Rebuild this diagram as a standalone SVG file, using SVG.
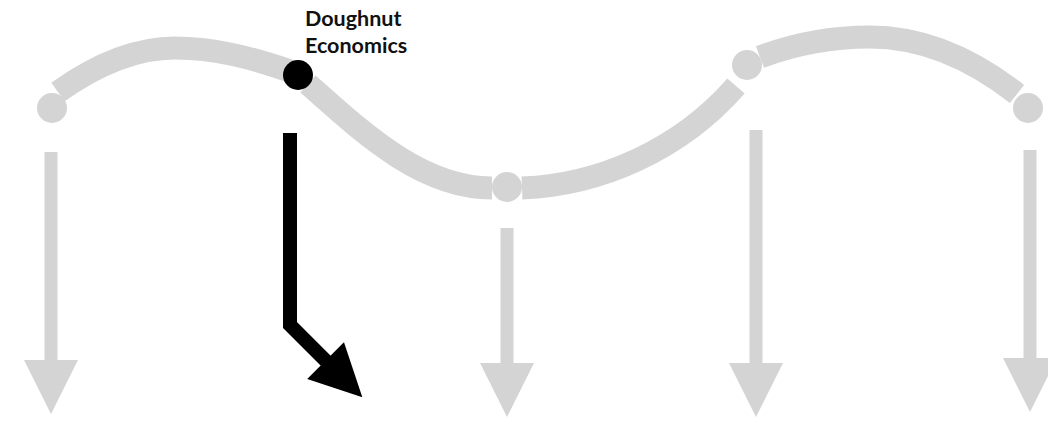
<svg xmlns="http://www.w3.org/2000/svg" width="1048" height="425" viewBox="0 0 1048 425">
  <style>
    .wave { fill: none; stroke: #d4d4d4; stroke-width: 23; stroke-linecap: butt; }
    .dot { fill: #d4d4d4; }
    .garrow { fill: none; stroke: #d4d4d4; stroke-width: 13; }
    .barrow { fill: none; stroke: #000; stroke-width: 14; stroke-linejoin: miter; }
    .label { font-family: Lato, "Liberation Sans", sans-serif; font-weight: 700; font-size: 21.5px; fill: #111; }
  </style>
  <defs>
    <marker id="gh" markerUnits="userSpaceOnUse" markerWidth="56" markerHeight="56" viewBox="0 0 56 56" refX="2" refY="27" orient="auto" overflow="visible">
      <path d="M0,0 L54,27 L0,54 Z" fill="#d4d4d4"/>
    </marker>
    <marker id="bh" markerUnits="userSpaceOnUse" markerWidth="56" markerHeight="56" viewBox="0 0 56 56" refX="2" refY="26" orient="auto" overflow="visible">
      <path d="M0,0 L52,26 L0,52 Z" fill="#000"/>
    </marker>
  </defs>
  <rect width="1048" height="425" fill="#fff"/>
  <g id="connectors">
    <path class="wave" d="M58,92 C100,62 140,48 175,48 C215,48 252,58 290,71"/>
    <path class="wave" d="M308,84 C360,130 420,188 492,188"/>
    <path class="wave" d="M522,188 C600,185 680,150 736,86"/>
    <path class="wave" d="M760,57 C800,42 840,37 870,37 C930,37 980,65 1017,94"/>
    <path class="garrow" d="M51,152 V362" marker-end="url(#gh)"/>
    <path class="garrow" d="M507,228 V365" marker-end="url(#gh)"/>
    <path class="garrow" d="M756,130 V365" marker-end="url(#gh)"/>
    <path class="garrow" d="M1030,150 V360" marker-end="url(#gh)"/>
    <path class="barrow" d="M290,133 V325 L327,362" marker-end="url(#bh)"/>
  </g>
  <g id="node-1"><circle class="dot" cx="52" cy="108" r="15"/></g>
  <g id="node-doughnut">
    <circle cx="298" cy="75" r="15" fill="#000"/>
    <text class="label" x="305" y="26">Doughnut</text>
    <text class="label" x="305" y="53">Economics</text>
  </g>
  <g id="node-3"><circle class="dot" cx="507" cy="187" r="15"/></g>
  <g id="node-4"><circle class="dot" cx="747" cy="65" r="15"/></g>
  <g id="node-5"><circle class="dot" cx="1028" cy="108" r="15"/></g>
</svg>
